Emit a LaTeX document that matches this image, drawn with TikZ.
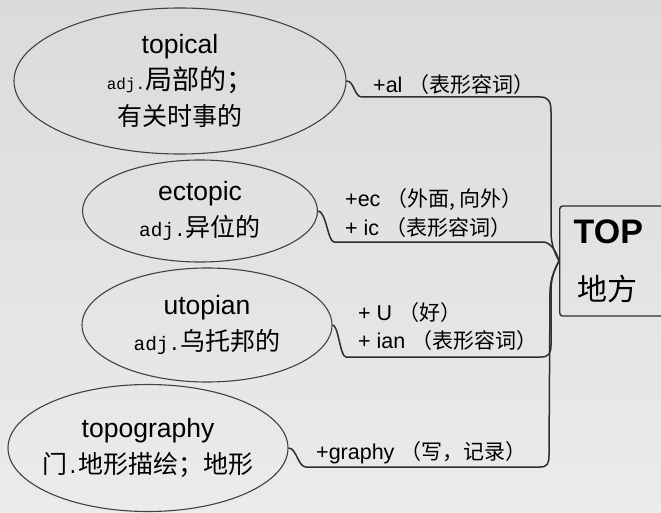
\documentclass[tikz,border=0pt]{standalone}
\usepackage{fontspec}
\setmainfont{Liberation Sans}
\newfontfamily\cjk{Noto Sans CJK SC}
\newfontfamily\mono{Liberation Mono}
\usetikzlibrary{shapes.geometric}
\definecolor{bgtop}{RGB}{219,219,219}
\definecolor{bgbot}{RGB}{235,235,235}
\definecolor{inkline}{RGB}{65,65,65}
\definecolor{wire}{RGB}{45,45,45}
\newcommand{\gloss}[1]{{\cjk\fontsize{21}{26}\selectfont #1}}
\newcommand{\hanzi}[2][25]{{\cjk\fontsize{#1}{36}\selectfont #2}}
\newcommand{\pos}[2][19.5]{{\mono\fontsize{#1}{36}\selectfont #2}}
\tikzset{
  word/.style={draw=inkline, ellipse, line width=1.1pt, inner sep=-20pt, align=center, font=\fontsize{26.5}{36}\selectfont},
  rootbox/.style={draw=wire, rounded corners=3pt, line width=1.4pt, align=left, text width=95pt, inner xsep=14pt, minimum height=110pt, font=\fontsize{34}{57}\selectfont},
  lbl/.style={anchor=west, inner sep=0pt, font=\fontsize{21.5}{26}\selectfont},
  link/.style={draw=wire, line width=1.5pt},
}
\begin{document}
\begin{tikzpicture}[x=1pt, y=-1pt]
  \useasboundingbox (0,0) rectangle (661,513);
  \shade[top color=bgtop, bottom color=bgbot] (0,0) rectangle (661,513);

  % words
  \node[word, minimum width=332pt, minimum height=146pt] (topical) at (180,81)
    {topical\\\pos[16]{adj.}\hanzi[27]{局部的；}\\\hanzi{有关时事的}};
  \node[word, minimum width=235pt, minimum height=102pt] (ectopic) at (200,211)
    {ectopic\\\pos{adj.}\hanzi{异位的}};
  \node[word, minimum width=250pt, minimum height=114pt] (utopian) at (207,325)
    {utopian\\\pos{adj.}\hanzi{乌托邦的}};
  \node[word, minimum width=280pt, minimum height=127pt] (topography) at (148,448)
    {topography\\\hanzi{门}\pos{.}\hanzi{地形描绘；地形}};

  % root
  \node[rootbox, anchor=west] (root) at (559,261)
    {\textbf{TOP}\\\hspace*{4pt}{\cjk\fontsize{30}{57}\selectfont 地方}};

  % affixes
  \node[lbl] (al) at (373,85) {+al \gloss{（表形容词）}};
  \node[lbl] (ec) at (345,200) {+ec \gloss{（外面, 向外）}};
  \node[lbl] (ic) at (345,228) {+ ic \gloss{（表形容词）}};
  \node[lbl] (u) at (358,313) {+ U \gloss{（好）}};
  \node[lbl] (ian) at (358,341) {+ ian \gloss{（表形容词）}};
  \node[lbl] (graphy) at (316,453) {+graphy \gloss{（写，记录）}};

  \draw[link] (topical.east) .. controls +(8,0) and +(-8,0) .. (362,97) -- (540,97)
    .. controls +(9,0) and +(0,-10) .. (551,112) -- (551,232)
    .. controls +(0,14) and +(-3,-6) .. (root.west);
  \draw[link] (ectopic.east) .. controls +(8,0) and +(-6,0) .. (334,242) -- (543,242)
    .. controls +(8,0) and +(-2,-8) .. (root.west);
  \draw[link] (utopian.east) .. controls +(6,0) and +(-6,0) .. (346,357) -- (541,357)
    .. controls +(8,0) and +(0,8) .. (551,345) -- (551,290)
    .. controls +(0,-14) and +(-3,6) .. (root.west);
  \draw[link] (topography.east) .. controls +(8,0) and +(-8,0) .. (306,467) -- (540,467)
    .. controls +(7,0) and +(0,9) .. (549,455) -- (550,292)
    .. controls +(0,-14) and +(-3,6) .. (root.west);
\end{tikzpicture}
\end{document}
